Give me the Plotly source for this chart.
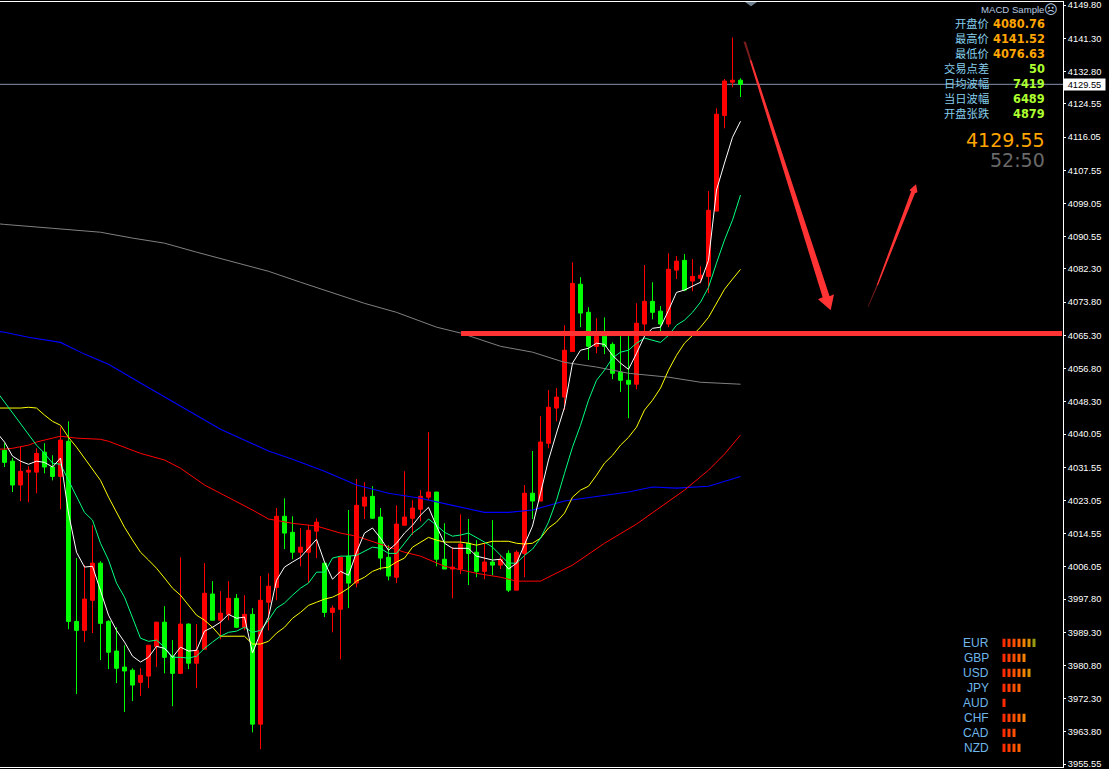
import plotly.graph_objects as go

# ---- price bars (one per period) ----
bar_open = [4035.9,4033.1,4027.0,4030.3,4030.3,4035.4,4031.6,4029.2,4038.2,3992.1,
            3989.8,3997.5,4007.0,3992.1,3984.5,3980.4,3979.6,3976.5,3978.1,3985.7,
            3991.9,3983.2,3978.8,3991.4,3981.4,3985.0,3999.1,3992.4,3993.9,3998.0,
            3990.6,3993.9,3965.8,3997.0,4000.8,4019.0,4014.9,4009.8,4009.8,4015.2,
            4007.0,3994.4,3995.2,4008.8,4001.9,4021.6,4024.1,4018.8,4008.5,4003.4,
            4016.7,4018.5,4020.8,4023.9,4025.2,4008.0,4005.5,4005.5,4012.1,4009.8,
            4004.9,4007.3,4006.5,4009.5,4000.1,4009.5,4024.9,4022.9,4037.7,4046.7,
            4049.5,4061.2,4078.4,4071.2,4062.5,4065.1,4063.0,4055.9,4053.8,4052.8,
            4068.2,4074.0,4071.5,4068.2,4082.0,4084.5,4079.2,4079.9,4080.4,4097.1,
            4121.6,4130.1,4130.6]
bar_high = [4037.7,4033.9,4036.7,4031.8,4036.4,4037.7,4034.6,4041.8,4043.3,4008.3,
            4006.5,4016.7,4007.5,3992.4,3990.6,3986.0,3980.1,3980.1,3986.0,3991.9,
            3996.0,3987.3,4008.5,3991.6,3991.4,4007.0,4002.4,3999.8,4002.4,3999.1,
            3998.8,3995.5,4003.7,4004.4,4021.1,4023.6,4019.0,4016.0,4016.7,4018.5,
            4007.0,3996.2,4008.5,4020.6,4028.5,4027.7,4026.7,4021.1,4011.6,4021.8,
            4030.5,4023.1,4025.7,4040.5,4025.2,4017.2,4011.1,4019.5,4018.3,4012.9,
            4012.1,4018.0,4009.0,4010.3,4010.3,4027.0,4035.7,4044.6,4051.3,4051.8,
            4067.9,4084.0,4080.2,4072.5,4069.7,4069.9,4063.5,4065.1,4065.1,4073.5,
            4083.3,4078.9,4072.8,4086.3,4085.6,4086.1,4084.8,4083.0,4102.2,4123.4,
            4130.9,4141.52,4131.1]
bar_low = [4031.6,4025.2,4022.9,4022.6,4024.9,4030.0,4028.2,4020.8,3990.1,3973.5,
           3986.8,3989.1,3982.2,3979.9,3976.3,3968.9,3971.7,3973.0,3975.0,3980.4,
           3978.8,3970.4,3978.6,3979.9,3975.0,3985.0,3992.4,3987.5,3992.4,3990.4,
           3989.8,3963.7,3959.4,3989.8,3997.5,4010.6,4008.0,4006.2,4001.9,4008.3,
           3993.2,3989.3,3982.4,3995.5,4000.8,4018.3,4018.3,4005.2,4002.6,4001.9,
           4016.7,4014.2,4017.7,4023.1,4006.2,4005.5,3998.0,4004.2,4001.4,4003.4,
           4002.9,4003.9,4005.5,3999.6,4000.1,4003.4,4018.3,4022.9,4036.4,4043.3,
           4046.2,4061.2,4067.4,4059.0,4060.7,4060.5,4054.1,4050.8,4044.1,4051.5,
           4066.4,4069.4,4066.1,4067.4,4079.7,4076.6,4076.6,4078.6,4076.1,4097.1,
           4118.3,4128.8,4126.3]
bar_close = [4032.8,4027.0,4030.5,4030.8,4035.1,4031.6,4029.2,4038.5,3992.1,3989.8,
             3997.8,4007.0,3991.6,3984.2,3980.1,3979.4,3975.8,3978.3,3986.0,3991.9,
             3982.9,3978.8,3991.4,3981.4,3984.7,3999.3,3992.4,3994.2,3998.0,3990.6,
             3993.9,3965.8,3997.5,4001.1,4019.0,4014.7,4009.8,4011.1,4015.4,4017.5,
             3994.4,3995.5,4008.5,4001.9,4021.8,4023.9,4018.5,4008.3,4003.7,4017.0,
             4018.8,4021.1,4024.1,4025.2,4008.0,4005.5,4006.0,4011.9,4009.5,4004.9,
             4007.3,4006.5,4008.0,4000.1,4009.8,4024.9,4022.9,4038.0,4046.9,4049.5,
             4061.5,4078.6,4071.0,4062.5,4065.1,4062.5,4055.6,4053.8,4052.8,4068.4,
             4074.0,4071.2,4068.2,4082.2,4084.3,4076.9,4080.4,4080.7,4097.3,4121.9,
             4130.4,4130.6,4129.55]
bar_index = list(range(len(bar_open)))

# ---- fast moving averages, one value per bar, starting one bar before the first ----
ma_white = [4040.5,4038.0,4034.4,4033.1,4032.3,4033.1,4032.8,4031.6,4033.9,4019.8,4009.8,
            4006.0,4006.2,4000.1,3993.7,3989.8,3986.8,3983.2,3981.7,3982.9,3985.7,
            3985.2,3982.9,3985.5,3984.5,3984.7,3989.6,3990.6,3991.9,3993.9,3992.9,
            3993.2,3984.0,3989.1,3993.2,4002.6,4006.0,4007.3,4008.5,4010.8,4013.1,
            4007.3,4002.9,4004.9,4003.9,4009.8,4014.7,4016.0,4013.4,4010.3,4012.1,
            4014.7,4016.7,4019.3,4021.3,4016.5,4012.1,4010.8,4010.8,4010.8,4008.8,
            4008.3,4007.8,4008.0,4005.5,4007.0,4011.6,4016.5,4024.9,4033.4,4040.3,
            4046.9,4058.2,4061.5,4062.0,4063.3,4063.0,4060.2,4058.2,4056.6,4060.7,
            4065.1,4067.1,4067.4,4071.7,4076.3,4076.9,4077.9,4078.9,4084.5,4102.5,
            4109.4,4116.0,4120.1]
ma_green = [4051.0,4048.2,4045.4,4042.6,4039.8,4037.2,4035.1,4032.6,4032.3,4028.2,4023.9,
            4020.0,4018.0,4012.1,4007.8,4001.9,3998.3,3993.2,3987.8,3987.0,3987.3,
            3985.5,3982.9,3982.9,3982.7,3983.2,3985.2,3986.8,3988.3,3989.3,3989.6,
            3990.6,3989.3,3989.8,3992.4,3995.5,3996.8,3998.8,4000.6,4001.9,4004.7,
            4004.7,4008.3,4008.8,4008.8,4009.0,4010.1,4011.1,4010.8,4009.5,4009.5,
            4012.1,4014.7,4016.2,4018.3,4016.7,4014.9,4013.9,4014.2,4014.7,4013.6,
            4012.4,4011.1,4009.0,4007.0,4007.0,4009.0,4010.6,4013.4,4017.5,4023.1,
            4030.0,4036.7,4042.3,4048.7,4053.8,4056.4,4059.5,4061.0,4061.5,4063.3,
            4064.6,4064.1,4063.5,4065.3,4067.9,4069.2,4071.2,4073.8,4077.6,4083.8,
            4089.7,4094.8,4101.2]
ma_yellow = [4046.7,4046.7,4046.7,4046.7,4046.9,4046.7,4044.9,4043.3,4042.3,4039.2,4036.7,
             4033.9,4031.3,4028.2,4023.9,4020.0,4016.2,4012.9,4009.8,4007.8,4005.7,
             4003.2,4000.6,3998.8,3996.2,3993.7,3992.4,3990.6,3988.3,3988.3,3988.3,
             3988.3,3986.3,3986.3,3987.0,3989.1,3990.6,3992.9,3994.4,3996.2,3997.0,
             3997.8,3998.3,3999.3,4000.6,4002.4,4003.4,4004.9,4005.7,4006.0,4007.3,
             4008.3,4011.1,4012.4,4013.6,4012.9,4012.4,4012.4,4012.4,4012.1,4011.6,
             4012.1,4012.6,4012.6,4012.6,4012.1,4011.9,4012.1,4013.4,4016.0,4017.5,
             4019.8,4023.9,4025.7,4026.7,4029.5,4032.6,4034.6,4037.2,4039.2,4041.8,
             4046.2,4048.7,4051.8,4056.4,4060.2,4063.3,4065.3,4067.4,4069.9,4073.5,
             4077.1,4079.7,4082.2]
fast_index = list(range(-1, len(bar_open)))

# ---- slow moving averages, read at the bars where they bend ----
ma_red_index = [-1,0,1,3,4,6,7,9,12,13,17,20,22,25,28,31,33,36,39,42,44,47,50,52,55,59,62,64,67,
                71,75,79,82,85,88,90,92]
ma_red = [4036.2,4036.2,4036.4,4037.2,4038.0,4039.0,4039.5,4039.0,4038.7,4038.2,4035.1,4033.4,
          4031.3,4027.0,4023.9,4020.6,4018.3,4017.2,4016.5,4014.7,4013.9,4011.9,4009.8,4008.8,
          4006.2,4004.4,4003.4,4002.4,4002.4,4006.5,4012.1,4017.0,4021.3,4025.7,4030.8,4034.9,
          4039.8]
ma_blue_index = [-1,0,3,7,10,13,17,20,23,27,33,36,40,44,48,52,56,60,63,66,70,74,78,81,84,88,90,92]
ma_blue = [4066.4,4066.1,4064.8,4063.5,4060.5,4057.9,4053.1,4049.5,4045.9,4041.3,4035.7,4033.6,
           4030.5,4027.0,4024.9,4023.6,4021.8,4020.0,4020.0,4020.6,4022.9,4024.1,4025.2,4026.5,
           4026.2,4026.7,4028.0,4029.2]
ma_grey_index = [-1,0,6,12,16,20,24,29,33,37,41,45,49,54,57,62,66,70,74,78,83,87,92]
ma_grey = [4093.9,4093.7,4092.7,4091.7,4090.2,4088.9,4086.6,4083.8,4081.7,4078.9,4076.1,4073.5,
           4071.2,4067.4,4065.9,4062.5,4061.0,4058.4,4057.2,4055.6,4054.6,4053.3,4052.8]

# ---- price axis ----
price_ticks = [4149.80,4141.30,4132.80,4124.55,4116.05,4107.55,4099.05,4090.55,4082.30,4073.80,
               4065.30,4056.80,4048.30,4040.05,4031.55,4023.05,4014.55,4006.05,3997.80,3989.30,
               3980.80,3972.30,3963.80,3955.55]
last_price = 4129.55
support_price = 4065.8

# ---- info panel ----
panel_labels = ["开盘价","最高价","最低价","交易点差","日均波幅","当日波幅","开盘张跌"]
panel_values = ["4080.76","4141.52","4076.63","50","7419","6489","4879"]
panel_colors = ["#FFA500","#FFA500","#FFA500","#ADFF2F","#ADFF2F","#ADFF2F","#ADFF2F"]

# ---- currency strength meter ----
currencies = ["EUR","GBP","USD","JPY","AUD","CHF","CAD","NZD"]
strength = [7,5,6,4,1,5,3,4]
meter_ramp = ["#FF2A00","#FF3C00","#FF4E00","#FF6000","#F58000","#D89000","#9A9A10"]

W, H = 1109, 769
# the drawn paper occupies this vertical band of the page
PAPER_TOP_PX, PAPER_BOTTOM_PX = 1.8, 766.8
PLOT_RIGHT = 1063
PX_PER_BAR = 8.0
FIRST_BAR_PX = 4.5
PRICE_PER_PX = 0.25593
TOP_PRICE_PX, TOP_PRICE = 5.0, 4149.80


def fx(px):
    return px / W


def fy(py):
    return (PAPER_BOTTOM_PX - py) / (PAPER_BOTTOM_PX - PAPER_TOP_PX)


def poly(points, color):
    path = "M " + " L ".join(f"{fx(x):.5f},{fy(y):.5f}" for x, y in points) + " Z"
    return dict(type="path", xref="paper", yref="paper", path=path,
                fillcolor=color, line=dict(width=0), layer="above")


fig = go.Figure()

fig.add_trace(go.Candlestick(
    x=bar_index, open=bar_open, high=bar_high, low=bar_low, close=bar_close,
    increasing=dict(line=dict(color="#FF0000", width=1), fillcolor="#FF0000"),
    decreasing=dict(line=dict(color="#00FF00", width=1), fillcolor="#00FF00"),
    whiskerwidth=0, hoverinfo="skip", showlegend=False))

for xs, ys, col, lw in [(ma_grey_index, ma_grey, "#808080", 1),
                        (ma_blue_index, ma_blue, "#0000FF", 1.1),
                        (ma_red_index, ma_red, "#FF0000", 1),
                        (fast_index, ma_yellow, "#FFFF00", 1),
                        (fast_index, ma_green, "#00FF7F", 1),
                        (fast_index, ma_white, "#FFFFFF", 1)]:
    fig.add_trace(go.Scatter(x=xs, y=ys, mode="lines", line=dict(color=col, width=lw),
                             hoverinfo="skip", showlegend=False))

# strength meter segments live on their own small axes
seg_x, seg_y, seg_c = [], [], []
for row, count in enumerate(strength):
    for k in range(count):
        seg_x.append(k)
        seg_y.append(row)
        seg_c.append(meter_ramp[k])
fig.add_trace(go.Scatter(
    x=seg_x, y=seg_y, xaxis="x2", yaxis="y2", mode="markers",
    marker=dict(symbol="line-ns", size=6, color=seg_c, line=dict(color=seg_c, width=3)),
    hoverinfo="skip", showlegend=False))

shapes = [
    # last price line
    dict(type="line", xref="paper", yref="y", x0=0, x1=fx(PLOT_RIGHT), y0=last_price, y1=last_price,
         line=dict(color="#8496B0", width=1), layer="below"),
    # support level
    dict(type="line", xref="paper", yref="y", x0=fx(461), x1=fx(PLOT_RIGHT - 1),
         y0=support_price, y1=support_price, line=dict(color="#FF3333", width=5), layer="above"),
    # platform marker at the top edge
    poly([(745, PAPER_TOP_PX), (757, PAPER_TOP_PX), (751, 6)], "#708090"),
    # falling arrow, dark at its tail
    poly([(743.5, 41.5), (745.8, 41.5), (751.5, 60), (749.6, 60)], "#7A1C1C"),
    poly([(749.6, 60), (751.5, 60), (829.6, 296), (834, 294), (830.7, 310), (818, 299), (822.6, 297)], "#FF3333"),
    # rising arrow, dark at its tail
    poly([(867.7, 306.5), (868.2, 306.8), (878, 285), (876.8, 284.6)], "#7A1C1C"),
    poly([(876.8, 284.6), (878, 285), (915, 193), (917.5, 192), (916, 184), (909.3, 190), (911.2, 191)], "#FF3333"),
]

annotations = []


def add_text(px, py, text, size, color, family, anchor="right", bold=False, **kw):
    body = f"<b>{text}</b>" if bold else text
    annotations.append(dict(xref="paper", yref="paper", x=fx(px), y=fy(py), text=body, showarrow=False,
                            xanchor=anchor, yanchor="middle", borderpad=0, borderwidth=0,
                            font=dict(size=size, color=color, family=family), **kw))


add_text(1044, 9.5, "MACD Sample", 9.6, "#B8CCE0", "Liberation Sans")
add_text(1051.3, 9, "☹", 13, "#B8CCE0", "DejaVu Sans", anchor="center")
for row, (lab, val, col) in enumerate(zip(panel_labels, panel_values, panel_colors)):
    py = 24.3 + 15 * row
    add_text(988.5, py - 1.7, lab, 11.3, "#87CEEB", "Noto Sans CJK SC", height=13)
    add_text(1045.2, py - 0.8, val, 11.4, col, "DejaVu Sans", bold=True, height=13)
add_text(1045.2, 140, "4129.55", 19, "#FFA500", "DejaVu Sans")
add_text(1045.2, 160, "52:50", 19, "#696969", "DejaVu Sans")

for row, cur in enumerate(currencies):
    add_text(988.7, 642.7 + 15 * row, cur, 12, "#6EB6EA", "Liberation Sans")

# boxed last price on the axis
annotations.append(dict(xref="paper", yref="y", x=fx(1084.5), y=last_price, text="4129.55", showarrow=False,
                        xanchor="center", yanchor="middle", bgcolor="#FFFFFF", borderpad=0,
                        width=41, height=11, align="center",
                        font=dict(size=9.3, color="#000000", family="Liberation Sans")))

fig.update_layout(
    width=W, height=H, autosize=False,
    margin=dict(l=0, r=0, t=0, b=0, pad=0),
    paper_bgcolor="#000000", plot_bgcolor="#000000",
    boxgap=0.286, boxgroupgap=0.3,
    showlegend=False, hovermode=False, dragmode=False,
    shapes=shapes, annotations=annotations,
    xaxis=dict(domain=[0, fx(PLOT_RIGHT)],
               range=[-FIRST_BAR_PX / PX_PER_BAR, (PLOT_RIGHT - FIRST_BAR_PX) / PX_PER_BAR],
               showgrid=False, zeroline=False, showticklabels=False, ticks="",
               showline=True, mirror=True, linecolor="#FFFFFF", linewidth=1,
               rangeslider=dict(visible=False), fixedrange=True),
    yaxis=dict(domain=[0, 1], side="right",
               range=[TOP_PRICE - (PAPER_BOTTOM_PX - TOP_PRICE_PX) * PRICE_PER_PX,
                      TOP_PRICE + (TOP_PRICE_PX - PAPER_TOP_PX) * PRICE_PER_PX],
               tickmode="array", tickvals=price_ticks, ticktext=[f"{v:.2f}" for v in price_ticks],
               ticks="outside", ticklen=2, tickwidth=1, tickcolor="#FFFFFF",
               ticklabeloverflow="allow",
               tickfont=dict(size=9.3, color="#FFFFFF", family="Liberation Sans"),
               showgrid=False, zeroline=False, showline=True, linecolor="#FFFFFF", linewidth=1,
               fixedrange=True),
    xaxis2=dict(domain=[fx(1000), fx(1040)], range=[-0.8, 7.2], anchor="y2", visible=False, fixedrange=True),
    yaxis2=dict(domain=[fy(755), fy(635)], range=[7.487, -0.513], anchor="x2", visible=False, fixedrange=True),
)

fig.write_html("out.html", config=dict(displayModeBar=False))
